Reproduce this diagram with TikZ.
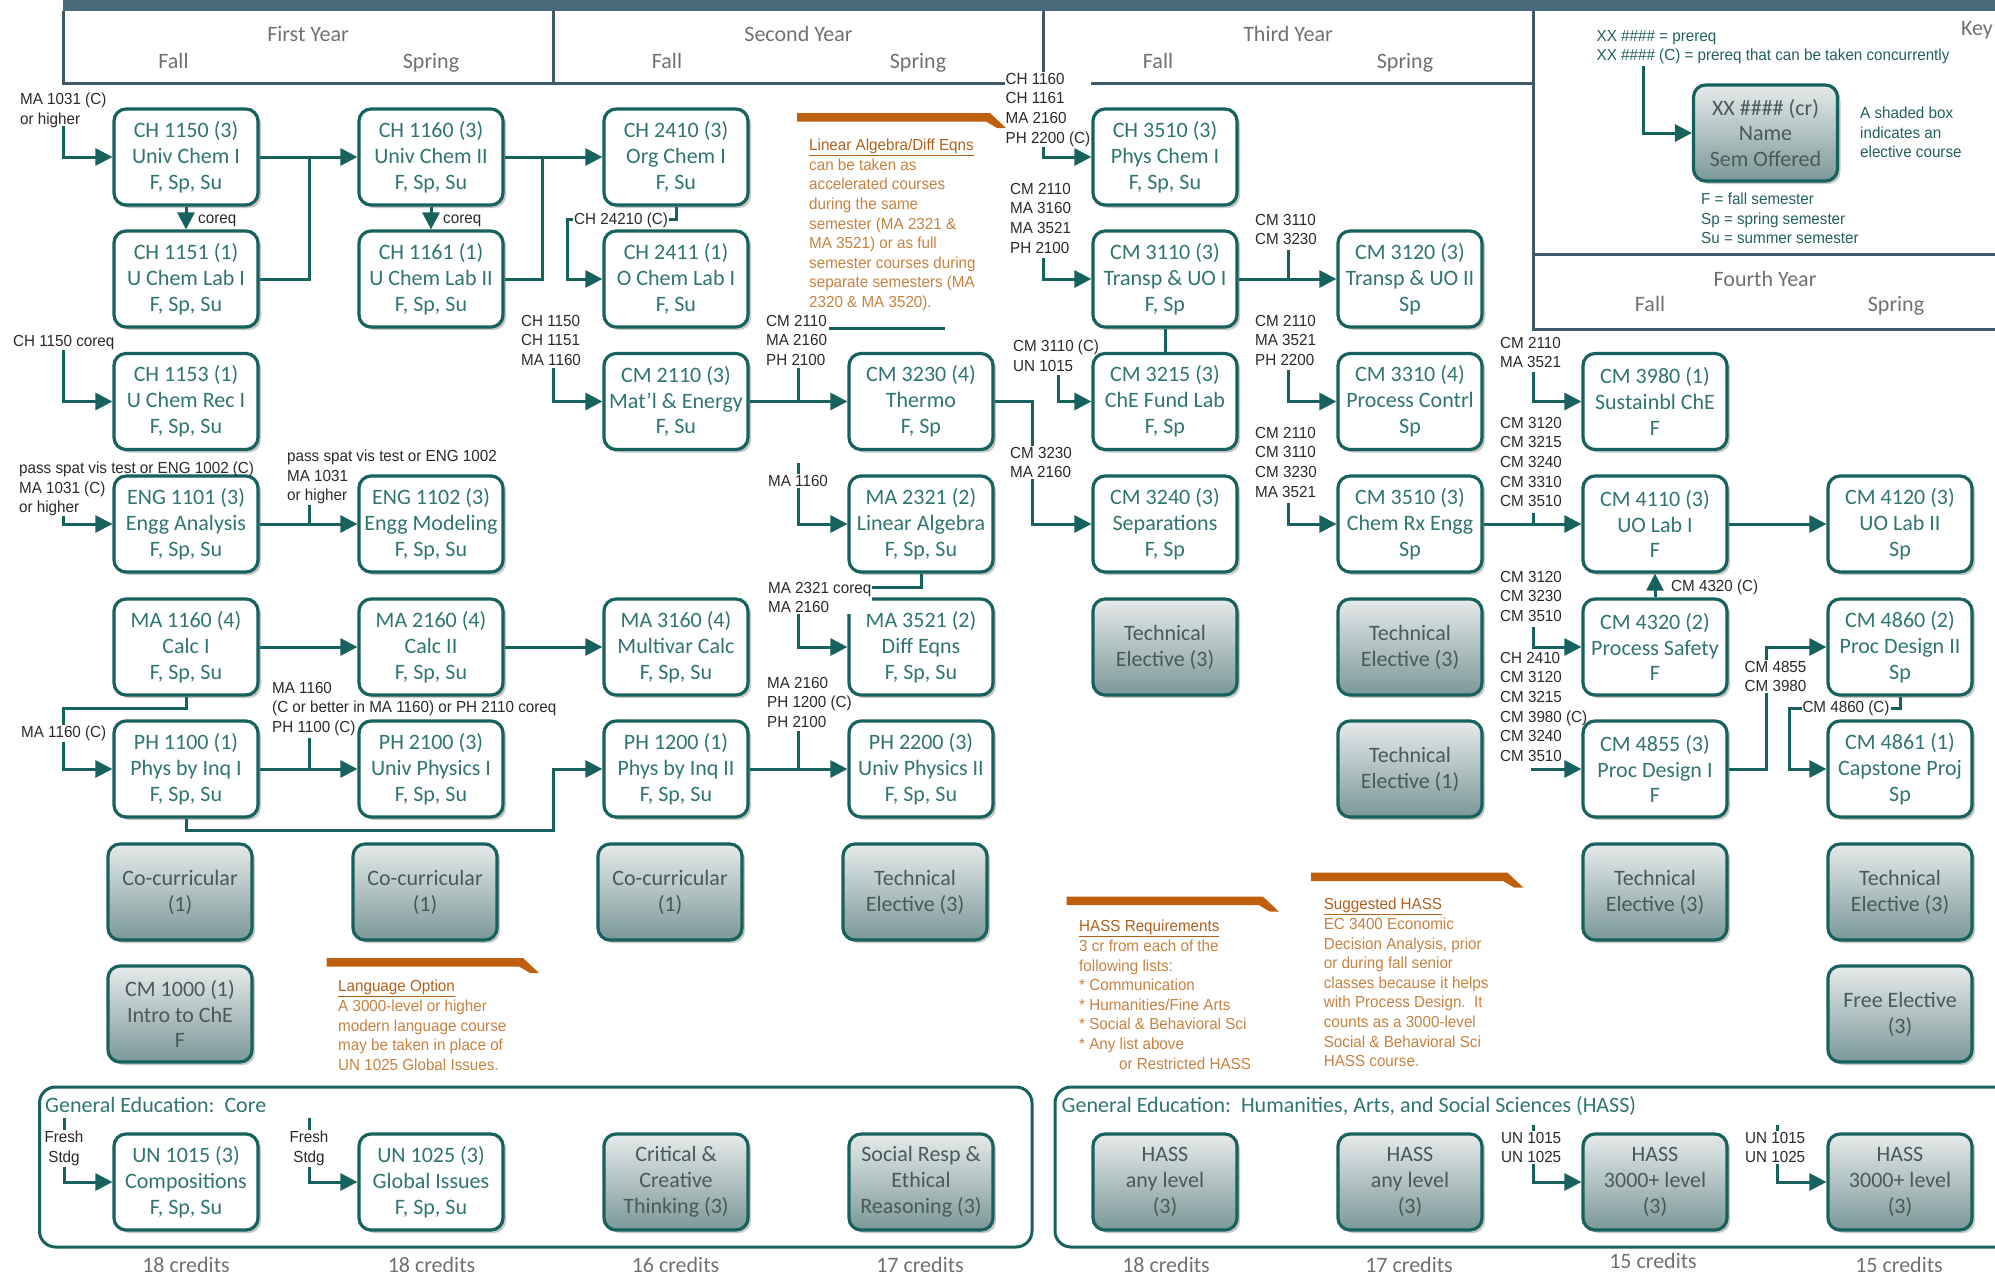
\documentclass[tikz,border=0pt]{standalone}
\usepackage{fontspec}
\setmainfont{Carlito}
\newfontfamily\labfam[FakeStretch=0.95]{Liberation Sans}
\usetikzlibrary{arrows.meta,shadows}
\definecolor{bord}{HTML}{17615E}
\definecolor{boxtxt}{HTML}{2F7572}
\definecolor{shtop}{HTML}{E6EAEA}
\definecolor{shbot}{HTML}{7B9898}
\definecolor{shtxt}{HTML}{485A5A}
\definecolor{labc}{HTML}{2A2A2A}
\definecolor{hdrbar}{HTML}{48697A}
\definecolor{hline}{HTML}{3E5A69}
\definecolor{hdtxt}{HTML}{707070}
\definecolor{orbar}{HTML}{C0600F}
\definecolor{ortitle}{HTML}{B0601C}
\definecolor{ortext}{HTML}{C58240}
\definecolor{keytxt}{HTML}{22605E}
\newcommand\boxfont{\fontsize{22}{25.8}\selectfont}
\newcommand\labfont{\labfam\fontsize{16}{19.6}\selectfont}
\newcommand\hdfont{\fontsize{22}{26}\selectfont}
\newcommand\obar[3]{\fill[orbar] (#1,#3) -- ({#2-16},#3) -- (#2,{#3+15}) -- ({#2-9},{#3+15}) -- ({#2-20},{#3+8.5}) -- (#1,{#3+8.5}) -- cycle;}
\tikzset{
  course/.style={draw=bord, line width=3.2pt, rounded corners=12pt, fill=white,
    minimum width=144pt, minimum height=96pt, align=center, font=\boxfont,
    text=boxtxt, inner sep=0pt,
    drop shadow={shadow xshift=3pt, shadow yshift=-3pt, fill=black, opacity=0.22}},
  elect/.style={course, top color=shtop, bottom color=shbot, text=shtxt},
  cline/.style={draw=bord, line width=3pt},
  carrow/.style={cline, -{Triangle[length=17pt,width=17pt]}},
  lab/.style={font=\labfont, text=labc, align=left, inner sep=1pt, anchor=north west},
  labw/.style={lab, fill=white},
  hd/.style={font=\hdfont, text=hdtxt, anchor=base, inner sep=0pt},
  hline/.style={draw=hline, line width=3pt},
  note/.style={font=\labfont, text=ortext, align=left, inner sep=0pt, anchor=north west},
  geframe/.style={draw=bord, line width=3pt, rounded corners=16pt},
}
\begin{document}
\begin{tikzpicture}[x=1pt,y=-1pt]
\useasboundingbox (0,0) rectangle (1995,1274);
\clip (0,0) rectangle (1995,1274);

% header
\fill[hdrbar] (63,0) rectangle (1995,11);
\draw[hline] (63,11) -- (63,83) -- (1533,83);
\draw[hline] (553,11) -- (553,83);
\draw[hline] (1043,11) -- (1043,83);
\draw[hline] (1533,11) -- (1533,329) -- (1995,329);
\draw[hline] (1533,254.5) -- (1995,254.5);
\node[hd] (h1) at (308,41.5) {First Year};
\node[hd] (h1f) at (173.5,68) {Fall};
\node[hd] (h1s) at (431,68) {Spring};
\node[hd] (h2) at (798.5,41.5) {Second Year};
\node[hd] (h2f) at (667,68) {Fall};
\node[hd] (h2s) at (918,68) {Spring};
\node[hd] (h3) at (1288,41.5) {Third Year};
\node[hd] (h3f) at (1158,68) {Fall};
\node[hd] (h3s) at (1405,68) {Spring};
\node[hd] (h4) at (1765,286) {Fourth Year};
\node[hd] (h4f) at (1650,311.5) {Fall};
\node[hd] (h4s) at (1896,311.5) {Spring};
\node[hd, anchor=base east] (key) at (1993,35) {Key};

% key
\node[elect] (keybox) at (1765.5,133) {XX \#\#\#\# (cr)\\Name\\Sem Offered};
\node[lab, text=keytxt] (k1) at (1595.5,29) {XX \#\#\#\# = prereq\\XX \#\#\#\# (C) = prereq that can be taken concurrently};
\node[lab, text=keytxt] (k2) at (1859,106) {A shaded box\\indicates an\\elective course};
\node[lab, text=keytxt] (k3) at (1700,192) {F = fall semester\\Sp = spring semester\\Su = summer semester};
\coordinate (ka) at (1643,66);
\draw[carrow] (ka) |- (keybox.west);

% gen ed frames
\draw[geframe] (39.5,1087) rectangle (1032,1247);
\draw[geframe] (1055,1087) rectangle (2015,1247);
\node[font=\hdfont, text=boxtxt, anchor=base west, inner sep=0pt] (ge1) at (45,1112) {General Education:\ \ Core};
\node[font=\hdfont, text=boxtxt, anchor=base west, inner sep=0pt] (ge2) at (1061.5,1112) {General Education:\ \ Humanities, Arts, and Social Sciences (HASS)};

% column 1
\node[course] (ch1150) at (186,157) {CH 1150 (3)\\Univ Chem I\\F, Sp, Su};
\node[course] (ch1151) at (186,279) {CH 1151 (1)\\U Chem Lab I\\F, Sp, Su};
\node[course] (ch1153) at (186,401.5) {CH 1153 (1)\\U Chem Rec I\\F, Sp, Su};
\node[course] (eng1101) at (186,524) {ENG 1101 (3)\\Engg Analysis\\F, Sp, Su};
\node[course] (ma1160) at (186,647) {MA 1160 (4)\\Calc I\\F, Sp, Su};
\node[course] (ph1100) at (186,769) {PH 1100 (1)\\Phys by Inq I\\F, Sp, Su};
\node[elect] (cc1) at (180,892) {Co-curricular\\(1)};
\node[elect] (cm1000) at (180,1014) {CM 1000 (1)\\Intro to ChE\\F};
\node[course] (un1015) at (186,1182) {UN 1015 (3)\\Compositions\\F, Sp, Su};
% column 2
\node[course] (ch1160) at (431,157) {CH 1160 (3)\\Univ Chem II\\F, Sp, Su};
\node[course] (ch1161) at (431,279) {CH 1161 (1)\\U Chem Lab II\\F, Sp, Su};
\node[course] (eng1102) at (431,524) {ENG 1102 (3)\\Engg Modeling\\F, Sp, Su};
\node[course] (ma2160) at (431,647) {MA 2160 (4)\\Calc II\\F, Sp, Su};
\node[course] (ph2100) at (431,769) {PH 2100 (3)\\Univ Physics I\\F, Sp, Su};
\node[elect] (cc2) at (425,892) {Co-curricular\\(1)};
\node[course] (un1025) at (431,1182) {UN 1025 (3)\\Global Issues\\F, Sp, Su};
% column 3
\node[course] (ch2410) at (676,157) {CH 2410 (3)\\Org Chem I\\F, Su};
\node[course] (ch2411) at (676,279) {CH 2411 (1)\\O Chem Lab I\\F, Su};
\node[course] (cm2110) at (676,401.5) {CM 2110 (3)\\Mat'l \& Energy\\F, Su};
\node[course] (ma3160) at (676,647) {MA 3160 (4)\\Multivar Calc\\F, Sp, Su};
\node[course] (ph1200) at (676,769) {PH 1200 (1)\\Phys by Inq II\\F, Sp, Su};
\node[elect] (cc3) at (670,892) {Co-curricular\\(1)};
\node[elect] (crit) at (676,1182) {Critical \&\\Creative\\Thinking (3)};
% column 4
\node[course] (cm3230) at (921,401.5) {CM 3230 (4)\\Thermo\\F, Sp};
\node[course] (ma2321) at (921,524) {MA 2321 (2)\\Linear Algebra\\F, Sp, Su};
\node[course] (ma3521) at (921,647) {MA 3521 (2)\\Diff Eqns\\F, Sp, Su};
\node[course] (ph2200) at (921,769) {PH 2200 (3)\\Univ Physics II\\F, Sp, Su};
\node[elect] (te4) at (915,892) {Technical\\Elective (3)};
\node[elect] (soc) at (921,1182) {Social Resp \&\\Ethical\\Reasoning (3)};
% column 5
\node[course] (ch3510) at (1165,157) {CH 3510 (3)\\Phys Chem I\\F, Sp, Su};
\node[course] (cm3110) at (1165,279) {CM 3110 (3)\\Transp \& UO I\\F, Sp};
\node[course] (cm3215) at (1165,401.5) {CM 3215 (3)\\ChE Fund Lab\\F, Sp};
\node[course] (cm3240) at (1165,524) {CM 3240 (3)\\Separations\\F, Sp};
\node[elect] (te5) at (1165,647) {Technical\\Elective (3)};
\node[elect] (hass5) at (1165,1182) {HASS\\any level\\(3)};
% column 6
\node[course] (cm3120) at (1410,279) {CM 3120 (3)\\Transp \& UO II\\Sp};
\node[course] (cm3310) at (1410,401.5) {CM 3310 (4)\\Process Contrl\\Sp};
\node[course] (cm3510) at (1410,524) {CM 3510 (3)\\Chem Rx Engg\\Sp};
\node[elect] (te6) at (1410,647) {Technical\\Elective (3)};
\node[elect] (te6b) at (1410,769) {Technical\\Elective (1)};
\node[elect] (hass6) at (1410,1182) {HASS\\any level\\(3)};
% column 7
\node[course] (cm3980) at (1655,401.5) {CM 3980 (1)\\Sustainbl ChE\\F};
\node[course] (cm4110) at (1655,524) {CM 4110 (3)\\UO Lab I\\F};
\node[course] (cm4320) at (1655,647) {CM 4320 (2)\\Process Safety\\F};
\node[course] (cm4855) at (1655,769) {CM 4855 (3)\\Proc Design I\\F};
\node[elect] (te7) at (1655,892) {Technical\\Elective (3)};
\node[elect] (hass7) at (1655,1182) {HASS\\3000+ level\\(3)};
% column 8
\node[course] (cm4120) at (1900,524) {CM 4120 (3)\\UO Lab II\\Sp};
\node[course] (cm4860) at (1900,647) {CM 4860 (2)\\Proc Design II\\Sp};
\node[course] (cm4861) at (1900,769) {CM 4861 (1)\\Capstone Proj\\Sp};
\node[elect] (te8) at (1900,892) {Technical\\Elective (3)};
\node[elect] (free8) at (1900,1014) {Free Elective\\(3)};
\node[elect] (hass8) at (1900,1182) {HASS\\3000+ level\\(3)};

% credits
\foreach \cx/\cy/\ct [count=\i] in {186/1272/18,431.5/1272/18,675.5/1272/16,920/1272/17,1166/1272/18,1409/1272/17,1653/1268/15,1899/1272/15}
  \node[hd] (cr\i) at (\cx,\cy) {\ct\ credits};

% connectors
\coordinate (a1) at (63,126);
\draw[carrow] (a1) |- (ch1150.west);
\draw[carrow] (ch1150.south) -- (ch1151.north);
\draw[carrow] (ch1160.south) -- (ch1161.north);
\draw[carrow] (ch1150.east) -- (ch1160.west);
\draw[cline] (ch1151.east) -| (309,157);
\draw[carrow] (ch1160.east) -- (ch2410.west);
\draw[cline] (ch1161.east) -| (542,157);
\draw[carrow] (ch2410.south) |- (567,219) |- (ch2411.west);
\coordinate (a2) at (63,350);
\draw[carrow] (a2) |- (ch1153.west);
\coordinate (a3) at (553.5,368);
\draw[carrow] (a3) |- (cm2110.west);
\draw[carrow] (cm2110.east) -- (cm3230.west);
\draw[cline] (798,368) -- (798,401.5);
\draw[cline] (829,328) -- (945,328);
\coordinate (a4) at (1043,145);
\draw[carrow] (a4) |- (ch3510.west);
\coordinate (a5) at (1043,258);
\draw[carrow] (a5) |- (cm3110.west);
\draw[carrow] (cm3110.east) -- (cm3120.west);
\draw[cline] (1288,250) -- (1288,279);
\coordinate (a6) at (1288,370);
\draw[carrow] (a6) |- (cm3310.west);
\coordinate (a7) at (1288,503);
\draw[carrow] (a7) |- (cm3510.west);
\coordinate (a8) at (1058.5,375);
\draw[carrow] (a8) |- (cm3215.west);
\draw[cline] (cm3110.south) -- (cm3215.north);
\draw[carrow] (cm3230.east) -| (1032.6,470) |- (cm3240.west);
\coordinate (a9) at (1533,372);
\draw[carrow] (a9) |- (cm3980.west);
\draw[carrow] (cm3510.east) -- (cm4110.west);
\draw[cline] (1533,513) -- (1533,524);
\draw[carrow] (cm4110.east) -- (cm4120.west);
\draw[carrow] (cm4320.north) -- (cm4110.south);
\coordinate (a10) at (1533,627);
\draw[carrow] (a10) |- (cm4320.west);
\coordinate (a11) at (1531,769);
\draw[carrow] (a11) -- (cm4855.west);
\draw[carrow] (cm4855.east) -| (1766,700) |- (cm4860.west);
\draw[carrow] (cm4860.south) |- (1789,708) |- (cm4861.west);
\coordinate (a12) at (63,516);
\draw[carrow] (a12) |- (eng1101.west);
\draw[carrow] (eng1101.east) -- (eng1102.west);
\draw[cline] (309,505) -- (309,524);
\draw[carrow] (ma1160.east) -- (ma2160.west);
\draw[carrow] (ma2160.east) -- (ma3160.west);
\draw[carrow] (ma1160.south) |- (63,708) |- (ph1100.west);
\draw[carrow] (ph1100.east) -- (ph2100.west);
\draw[cline] (309,738) -- (309,769);
\draw[carrow] (ph1100.south) |- (553.6,830.7) |- (ph1200.west);
\draw[carrow] (ph1200.east) -- (ph2200.west);
\draw[cline] (798,731) -- (798,769);
\coordinate (a13) at (798,463);
\draw[carrow] (a13) |- (ma2321.west);
\draw[carrow] (ma2321.south) |- (798,587) |- (ma3521.west);
\coordinate (a14) at (64,1118);
\draw[carrow] (a14) |- (un1015.west);
\coordinate (a15) at (309,1118);
\draw[carrow] (a15) |- (un1025.west);
\coordinate (a16) at (1533,1125);
\draw[carrow] (a16) |- (hass7.west);
\coordinate (a17) at (1777,1125);
\draw[carrow] (a17) |- (hass8.west);

% labels
\node[lab] (l1) at (19,92) {MA 1031 (C)\\or higher};
\node[lab, anchor=base west] (cq1) at (197,223) {coreq};
\node[lab, anchor=base west] (cq2) at (442,223) {coreq};
\node[labw] (l2) at (573,212) {CH 24210 (C)};
\node[lab] (l3) at (12,334) {CH 1150 coreq};
\node[lab] (l4) at (520,314) {CH 1150\\CH 1151\\MA 1160};
\node[lab] (l5) at (765,314) {CM 2110\\MA 2160\\PH 2100};
\node[labw] (l6) at (1004.5,72) {CH 1160\\CH 1161\\MA 2160\\PH 2200 (C)};
\node[lab] (l7) at (1009,182) {CM 2110\\MA 3160\\MA 3521\\PH 2100};
\node[lab] (l8) at (1254,213) {CM 3110\\CM 3230};
\node[lab] (l9) at (1254,314) {CM 2110\\MA 3521\\PH 2200};
\node[lab] (l10) at (1012,339) {CM 3110 (C)\\UN 1015};
\node[labw] (l11) at (1009,446) {CM 3230\\MA 2160};
\node[lab] (l12) at (1254,426) {CM 2110\\CM 3110\\CM 3230\\MA 3521};
\node[lab] (l13) at (1499,336) {CM 2110\\MA 3521};
\node[lab] (l14) at (1499,416) {CM 3120\\CM 3215\\CM 3240\\CM 3310\\CM 3510};
\node[lab] (l15) at (1670,579) {CM 4320 (C)};
\node[lab] (l16) at (1499,570) {CM 3120\\CM 3230\\CM 3510};
\node[lab] (l17) at (1499,651) {CH 2410\\CM 3120\\CM 3215\\CM 3980 (C)\\CM 3240\\CM 3510};
\node[labw] (l18) at (1743.5,660) {CM 4855\\CM 3980};
\node[labw, anchor=center] (l19) at (1846,708) {CM 4860 (C)};
\node[lab] (l20) at (18,461) {pass spat vis test or ENG 1002 (C)\\MA 1031 (C)\\or higher};
\node[lab] (l21) at (286,449) {pass spat vis test or ENG 1002\\MA 1031\\or higher};
\node[labw] (l22) at (20,725) {MA 1160 (C)};
\node[lab] (l23) at (271,681) {MA 1160\\(C or better in MA 1160) or PH 2110 coreq\\PH 1100 (C)};
\node[lab] (l24) at (766,676) {MA 2160\\PH 1200 (C)\\PH 2100};
\node[labw] (l25) at (767,474) {MA 1160};
\node[labw] (l26) at (767,581) {MA 2321 coreq\\MA 2160};
\node[labw, align=center, anchor=north] (l27) at (64,1130) {Fresh\\Stdg};
\node[labw, align=center, anchor=north] (l28) at (309,1130) {Fresh\\Stdg};
\node[labw] (l29) at (1500,1131) {UN 1015\\UN 1025};
\node[labw] (l30) at (1744,1131) {UN 1015\\UN 1025};

% notes
\obar{797}{1006}{113}
\node[note] (n1) at (809,139) {{\color{ortitle}\underline{Linear Algebra/Diff Eqns}}\\can be taken as\\accelerated courses\\during the same\\semester (MA 2321 \&\\MA 3521) or as full\\semester courses during\\separate semesters (MA\\2320 \& MA 3520).};
\obar{326.5}{539}{958}
\node[note] (n2) at (338,980) {{\color{ortitle}\underline{Language Option}}\\A 3000-level or higher\\modern language course\\may be taken in place of\\UN 1025 Global Issues.};
\obar{1066.6}{1279}{896.7}
\node[note] (n3) at (1079,920) {{\color{ortitle}\underline{HASS Requirements}}\\3 cr from each of the\\following lists:\\* Communication\\* Humanities/Fine Arts\\* Social \& Behavioral Sci\\* Any list above\\\hspace*{40pt}or Restricted HASS};
\obar{1311}{1523.5}{872.7}
\node[note] (n4) at (1323.6,898) {{\color{ortitle}\underline{Suggested HASS}}\\EC 3400 Economic\\Decision Analysis, prior\\or during fall senior\\classes because it helps\\with Process Design.\ \ It\\counts as a 3000-level\\Social \& Behavioral Sci\\HASS course.};
\end{tikzpicture}
\end{document}
